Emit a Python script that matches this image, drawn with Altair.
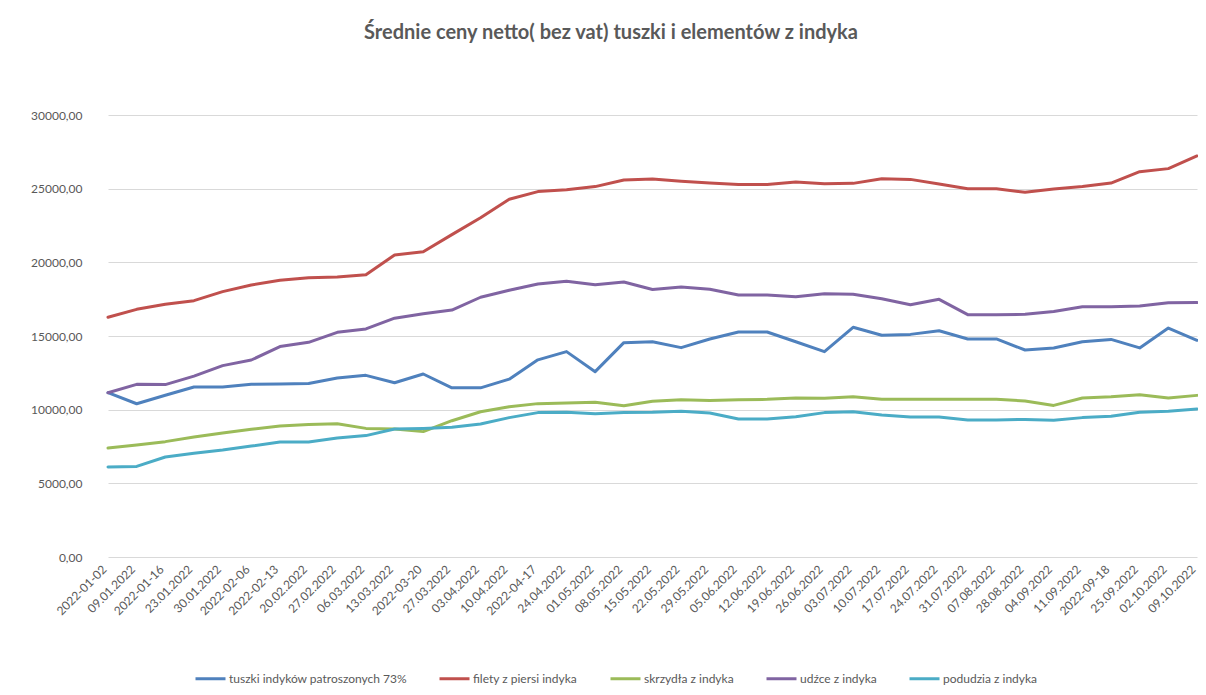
import altair as alt
import pandas as pd

labels = ["2022-01-02", "09.01.2022", "2022-01-16", "23.01.2022", "30.01.2022", "2022-02-06",
          "2022-02-13", "20.02.2022", "27.02.2022", "06.03.2022", "13.03.2022", "2022-03-20",
          "27.03.2022", "03.04.2022", "10.04.2022", "2022-04-17", "24.04.2022", "01.05.2022",
          "08.05.2022", "15.05.2022", "22.05.2022", "29.05.2022", "05.06.2022", "12.06.2022",
          "19.06.2022", "26.06.2022", "03.07.2022", "10.07.2022", "17.07.2022", "24.07.2022",
          "31.07.2022", "07.08.2022", "28.08.2022", "04.09.2022", "11.09.2022", "2022-09-18",
          "25.09.2022", "02.10.2022", "09.10.2022"]

series_names = ["tuszki indyków patroszonych 73%", "filety z piersi indyka", "skrzydła z indyka",
                "udźce z indyka", "podudzia z indyka"]
series_colors = ["#4F81BD", "#C0504D", "#9BBB59", "#8064A2", "#4BACC6"]

tuszki = [11150, 10400, 10980, 11540, 11540, 11720, 11750, 11770, 12150, 12330, 11830, 12420, 11480,
          11480, 12070, 13380, 13940, 12580, 14550, 14610, 14210, 14800, 15270, 15270, 14610, 13940,
          15590, 15050, 15110, 15360, 14800, 14800, 14050, 14190, 14610, 14770, 14190, 15540, 14710]
filety = [16270, 16810, 17150, 17400, 18010, 18460, 18780, 18960, 19000, 19160, 20500, 20720, 21880,
          23030, 24280, 24800, 24930, 25140, 25590, 25650, 25500, 25380, 25290, 25290, 25450, 25340,
          25360, 25680, 25630, 25320, 25000, 25000, 24750, 24980, 25140, 25380, 26150, 26360, 27220]
skrzydla = [7400, 7600, 7830, 8140, 8420, 8670, 8890, 9000, 9050, 8730, 8690, 8510, 9250,
            9860, 10200, 10410, 10450, 10500, 10270, 10570, 10680, 10630, 10680, 10700, 10790, 10770,
            10880, 10700, 10700, 10700, 10700, 10700, 10590, 10290, 10790, 10880, 11020, 10790, 10970]
udzce = [11150, 11720, 11700, 12280, 12990, 13370, 14280, 14570, 15250, 15480, 16210, 16510, 16760,
         17630, 18100, 18530, 18710, 18480, 18660, 18160, 18320, 18170, 17780, 17780, 17670, 17870,
         17830, 17530, 17120, 17490, 16450, 16450, 16470, 16670, 16990, 16990, 17030, 17260, 17280]
podudzia = [6110, 6150, 6790, 7040, 7260, 7530, 7800, 7800, 8080, 8240, 8690, 8730, 8800,
            9030, 9460, 9800, 9820, 9730, 9800, 9820, 9890, 9770, 9370, 9370, 9520, 9800,
            9860, 9640, 9500, 9500, 9300, 9300, 9340, 9280, 9460, 9550, 9820, 9890, 10040]

y_ticks = [0, 5000, 10000, 15000, 20000, 25000, 30000]

rows = []
for name, vals in zip(series_names, [tuszki, filety, skrzydla, udzce, podudzia]):
    for i, (lab, v) in enumerate(zip(labels, vals)):
        rows.append({"data": lab, "idx": i, "seria": name, "cena": v})
df = pd.DataFrame(rows)

TXT = "#595959"

chart = alt.Chart(df).mark_line(strokeWidth=3, strokeCap="round", strokeJoin="round").encode(
    x=alt.X("data:O", sort=labels, title=None,
            scale=alt.Scale(range=[14, 1103], padding=0),
            axis=alt.Axis(labelAngle=-45, labelAlign="right", labelBaseline="middle",
                          labelPadding=10, labelOffset=-4, ticks=False, domain=False, grid=False,
                          labelOverlap=False, labelFontSize=12, labelColor=TXT,
                          labelBound=False, labelFlush=False)),
    y=alt.Y("cena:Q", title=None,
            scale=alt.Scale(domain=[0, 30000], nice=False),
            axis=alt.Axis(values=y_ticks, ticks=False, domain=False, grid=True,
                          gridColor="#D9D9D9", gridWidth=1, labelPadding=12,
                          labelFontSize=12, labelColor=TXT,
                          labelExpr="replace(format(datum.value, '.2f'), '.', ',')")),
    color=alt.Color("seria:N", sort=series_names,
                    scale=alt.Scale(domain=series_names, range=series_colors),
                    legend=alt.Legend(title=None, orient="none", direction="horizontal",
                                      legendX=100, legendY=547, symbolType="stroke",
                                      symbolSize=900, symbolStrokeWidth=3, columnPadding=26,
                                      labelFontSize=12, labelColor=TXT, labelOffset=2,
                                      labelLimit=400)),
    detail="seria:N",
    order="idx:Q",
).properties(
    width=1104,
    height=442,
    padding={"left": 86, "top": 107, "right": 0, "bottom": 130},
    autosize="none",
    title=alt.TitleParams("Średnie ceny netto( bez vat) tuszki i elementów z indyka",
                          anchor="middle", frame="group", dx=-35, offset=50,
                          baseline="alphabetic", fontSize=20, fontWeight="bold", color=TXT),
).configure(font="Lato").configure_view(stroke=None)

chart.save("out.html", embed_options={"renderer": "svg", "actions": False})
